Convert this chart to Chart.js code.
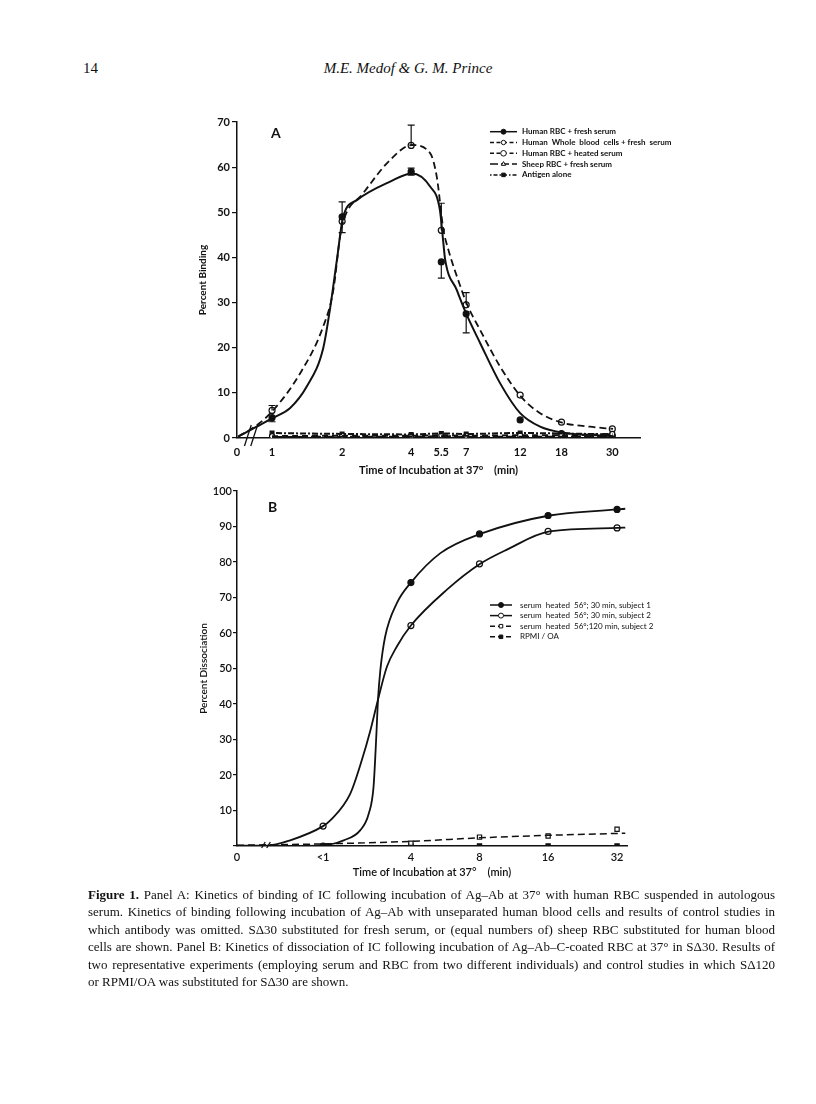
<!DOCTYPE html>
<html>
<head>
<meta charset="utf-8">
<script src="https://cdn.jsdelivr.net/npm/chart.js@4.4.0/dist/chart.umd.min.js"></script>
<style>
body { margin: 0; background: #fff; }
#page { position: relative; width: 816px; height: 1104px; overflow: hidden; color: #111; }
.abs { position: absolute; }
#pgnum { left: 83px; top: 60px; font: 15px "Liberation Serif", serif; }
#authors { left: 0; width: 816px; top: 60px; text-align: center; font: italic 15px "Liberation Serif", serif; }
.panel { font: bold 14px Lato, sans-serif; line-height: 14px; }
#caption { left: 88px; top: 886px; width: 687px; font: 13px "Liberation Serif", serif; line-height: 17.4px; }
#caption div { text-align: justify; text-align-last: justify; white-space: nowrap; }
#caption div.last { text-align-last: left; }
canvas { position: absolute; }
</style>
</head>
<body>
<div id="page">
  <div id="pgnum" class="abs">14</div>
  <div id="authors" class="abs">M.E. Medof &amp; G. M. Prince</div>

  <canvas id="chartA" width="560" height="390" style="left:150px; top:100px;"></canvas>
  <canvas id="chartB" width="560" height="420" style="left:150px; top:470px;"></canvas>
  <div class="abs panel" style="left:271px; top:126px;">A</div>
  <div class="abs panel" style="left:268px; top:500px;">B</div>

  <div id="caption" class="abs">
    <div><b>Figure 1.</b> Panel A: Kinetics of binding of IC following incubation of Ag–Ab at 37° with human RBC suspended in autologous</div>
    <div>serum. Kinetics of binding following incubation of Ag–Ab with unseparated human blood cells and results of control studies in</div>
    <div>which antibody was omitted. SΔ30 substituted for fresh serum, or (equal numbers of) sheep RBC substituted for human blood</div>
    <div>cells are shown. Panel B: Kinetics of dissociation of IC following incubation of Ag–Ab–C-coated RBC at 37° in SΔ30. Results of</div>
    <div>two representative experiments (employing serum and RBC from two different individuals) and control studies in which SΔ120</div>
    <div class="last">or RPMI/OA was substituted for SΔ30 are shown.</div>
  </div>
</div>

<script>
// ---- Panel A: binding ----
// x axis is not linear in time, so each time label gets a position on the axis
var labelsA = ['0', '1', '2', '4', '5.5', '7', '12', '18', '30'];
var posA = [0, 1, 3, 4.97, 5.83, 6.54, 8.08, 9.26, 10.71];
var sampleA = posA.slice(1);

var freshA = [4.5, 49, 59, 39, 27.5, 4, 1, 0.5];
var freshUp = [0, 3.3, 0.8, 0, 0, 0, 0, 0];
var freshDown = [0.9, 0, 0.8, 3.6, 4.2, 0, 0, 0];
var wholeA = [6.1, 48, 64.8, 46, 29.5, 9.5, 3.5, 2];
var wholeUp = [1.1, 0, 4.5, 6, 2.7, 0, 0, 0];
var wholeDown = [0, 2.5, 0, 0, 0, 0, 0, 0];
var heatedA = [0.4, 0.5, 0.5, 0.6, 0.5, 0.6, 0.6, 0.9];
var sheepA = [0.2, 0.3, 0.3, 0.4, 0.3, 0.3, 0.3, 0.4];
var antigenA = [1.1, 0.9, 0.8, 1.0, 0.9, 1.1, 1.0, 0.8];

// the fitted curves as drawn in the figure
var freshCurveX = [0.03, 0.56, 1.04, 1.51, 1.99, 2.46, 2.65, 2.85, 3.03, 3.42, 4.37, 4.99, 5.51, 5.79, 5.89, 5.94, 6.27, 6.56, 6.94, 7.51, 8.08, 8.65, 9.28, 10.73];
var freshCurveY = [0.3, 2.5, 4.5, 6.6, 11.4, 19.9, 28.4, 39.4, 49, 52.7, 56.8, 58.6, 55.7, 50.5, 43.1, 39.5, 32.8, 27.2, 21, 12.1, 5.5, 2.5, 1.2, 0.4];
var wholeCurveX = [0.03, 0.56, 1.04, 1.8, 2.46, 2.75, 2.94, 3.03, 3.6, 4.37, 4.99, 5.51, 5.7, 5.89, 5.98, 6.41, 6.57, 6.94, 7.51, 8.11, 8.65, 9.28, 10.07, 10.73];
var wholeCurveY = [0.3, 2.8, 6.2, 14.3, 24.7, 32.8, 44.6, 48, 54.2, 61.6, 64.9, 63.1, 57.9, 46.1, 43.1, 32.8, 29.5, 23.9, 15.8, 9.1, 5.5, 3.4, 2.5, 2];

// ---- Panel B: dissociation ----
var labelsB = ['0', '<1', '4', '8', '16', '32'];
var posB = [0, 2.51, 5.07, 7.07, 9.07, 11.08];
var sampleB = posB.slice(1);
var ctrlB = posB.slice(2);

var subj1B = [0, 74.2, 87.9, 93.1, 94.8];
var subj2B = [5.6, 62.1, 79.5, 88.6, 89.6];
var sd120B = [0.8, 2.5, 2.8, 4.7];
var rpmiB = [0, 0, 0, 0];

var subj1CurveX = [0, 0.83, 2.51, 3.11, 3.59, 3.84, 3.98, 4.06, 4.11, 4.18, 4.32, 4.66, 5.07, 5.93, 7.09, 9.11, 11.1, 11.32];
var subj1CurveY = [0, 0, 0.2, 1.6, 4.4, 9.1, 16.6, 30.7, 41.1, 49.6, 59, 68.4, 74.2, 82.5, 87.9, 93.1, 94.8, 95];
var subj2CurveX = [0, 0.88, 1.55, 2.51, 2.72, 3.3, 3.64, 3.89, 4.13, 4.37, 4.66, 5.07, 6.12, 7.09, 7.87, 9.11, 11.1, 11.32];
var subj2CurveY = [0.1, 0.1, 1.6, 5.6, 7.2, 14.7, 24.2, 32.6, 42, 50.5, 56.2, 62.1, 72.2, 79.5, 83.5, 88.6, 89.6, 89.7];
var sd120CurveX = [0, 2.51, 5.07, 7.07, 9.07, 11.32];
var sd120CurveY = [0.2, 0.6, 1.3, 2.3, 3.0, 3.6];
var rpmiCurveX = [0, 11.32];
var rpmiCurveY = [0, 0];

Chart.defaults.font.family = 'Lato, sans-serif';
Chart.defaults.color = '#111';

function pts(xs, ys) {
  return xs.map(function(x, i) { return {x: x, y: ys[i]}; });
}

function curve(xs, ys, dash, w) {
  return {
    data: pts(xs, ys), borderColor: '#111', borderWidth: w || 1.8, borderDash: dash || [],
    pointRadius: 0, cubicInterpolationMode: 'monotone', fill: false
  };
}

function marks(xs, ys, style, filled, r) {
  return {
    data: pts(xs, ys), showLine: false, pointStyle: style, pointRadius: r || 2.8,
    pointBackgroundColor: filled ? '#111' : '#fff', pointBorderColor: '#111', pointBorderWidth: 1.2
  };
}

// legend drawn inside the plot, with line sample + marker
var keyBox = {
  id: 'keyBox',
  afterDraw: function(chart, args, o) {
    var ctx = chart.ctx;
    ctx.save();
    o.items.forEach(function(it, i) {
      var y = o.y + i * o.dy;
      ctx.strokeStyle = '#111';
      ctx.lineWidth = 1.5;
      ctx.setLineDash(it.dash || []);
      ctx.beginPath();
      ctx.moveTo(o.x, y);
      ctx.lineTo(o.x + o.w, y);
      ctx.stroke();
      ctx.setLineDash([]);
      ctx.lineWidth = 1;
      ctx.fillStyle = it.filled ? '#111' : '#fff';
      Chart.helpers.drawPoint(ctx, {pointStyle: it.style, radius: it.r || 2.5, borderWidth: 1, rotation: 0}, o.x + o.w / 2, y);
      ctx.fillStyle = '#111';
      ctx.font = o.font;
      ctx.textBaseline = 'middle';
      ctx.fillText(it.text, o.x + o.w + o.gap, y);
    });
    ctx.restore();
  }
};

var errBars = {
  id: 'errBars',
  afterDatasetsDraw: function(chart) {
    var ctx = chart.ctx, ys = chart.scales.y;
    ctx.save();
    ctx.strokeStyle = '#111';
    ctx.lineWidth = 1.2;
    chart.data.datasets.forEach(function(ds, di) {
      if (!ds.errUp) return;
      var meta = chart.getDatasetMeta(di);
      meta.data.forEach(function(p, i) {
        var v = ds.data[i].y;
        [[ds.errUp[i], 1], [ds.errDown[i], -1]].forEach(function(e) {
          if (!e[0]) return;
          var yy = ys.getPixelForValue(v + e[1] * e[0]);
          ctx.beginPath();
          ctx.moveTo(p.x, p.y);
          ctx.lineTo(p.x, yy);
          ctx.moveTo(p.x - 3.5, yy);
          ctx.lineTo(p.x + 3.5, yy);
          ctx.stroke();
        });
      });
    });
    ctx.restore();
  }
};

var axisBreak = {
  id: 'axisBreak',
  afterDraw: function(chart, args, o) {
    var ctx = chart.ctx, xs = chart.scales.x;
    var y0 = chart.scales.y.getPixelForValue(0);
    ctx.save();
    ctx.strokeStyle = '#111';
    ctx.lineWidth = 1.3;
    o.at.forEach(function(v) {
      var px = xs.getPixelForValue(v);
      ctx.beginPath();
      ctx.moveTo(px - o.dx, y0 + o.down);
      ctx.lineTo(px + o.dx, y0 - o.up);
      ctx.stroke();
    });
    ctx.restore();
  }
};

function xAxis(labels, pos, max, pad, h, titlePad, font) {
  return {
    type: 'linear', min: 0, max: max,
    afterBuildTicks: function(s) { s.ticks = pos.map(function(v) { return {value: v}; }); },
    ticks: { autoSkip: false, maxRotation: 0, padding: pad, font: font,
      callback: function(v, i) { return labels[i]; } },
    grid: { display: false, drawTicks: false },
    border: { display: true, color: '#111', width: 1.5 },
    title: { display: true, text: 'Time of Incubation at 37°    (min)', font: font, padding: {top: 0, bottom: titlePad} },
    afterFit: function(s) { s.height = h; }
  };
}

var fontA = {size: 11, weight: 'bold'};
var freshMarks = marks(sampleA, freshA, 'circle', true, 3);
freshMarks.errUp = freshUp; freshMarks.errDown = freshDown;
var wholeMarks = marks(sampleA, wholeA, 'circle', false, 3);
wholeMarks.errUp = wholeUp; wholeMarks.errDown = wholeDown;

new Chart(document.getElementById('chartA'), {
  type: 'line',
  data: {
    datasets: [
      curve(freshCurveX, freshCurveY, [], 2),
      curve(wholeCurveX, wholeCurveY, [7, 4], 1.8),
      curve(sampleA, heatedA, [6, 4], 2),
      curve(sampleA, sheepA, [10, 3], 2),
      curve(sampleA, antigenA, [2, 2, 6, 2], 2),
      marks(sampleA, heatedA, 'circle', false, 2.5),
      marks(sampleA, sheepA, 'triangle', false, 2.5),
      marks(sampleA, antigenA, 'rect', true, 2.7),
      freshMarks,
      wholeMarks
    ]
  },
  options: {
    responsive: false, animation: false, devicePixelRatio: 1,
    layout: { padding: {left: 37, right: 70, top: 22, bottom: 7} },
    plugins: {
      legend: { display: false }, tooltip: { enabled: false },
      keyBox: {
        x: 340, y: 31.7, dy: 10.8, w: 27, gap: 5, font: 'bold 8px Lato, sans-serif',
        items: [
          {text: 'Human RBC + fresh serum', style: 'circle', filled: true},
          {text: 'Human  Whole  blood  cells + fresh  serum', style: 'circle', filled: false, dash: [4, 2.5], r: 2.2},
          {text: 'Human RBC + heated serum', style: 'circle', filled: false, dash: [4, 2.5], r: 2.8},
          {text: 'Sheep RBC + fresh serum', style: 'triangle', filled: false, dash: [8, 3]},
          {text: 'Antigen alone', style: 'rect', filled: true, dash: [1.5, 2, 4, 2]}
        ]
      },
      axisBreak: { at: [0.31, 0.49], dx: 3.4, up: 13, down: 8 }
    },
    scales: {
      x: xAxis(labelsA, posA, 11.5, 8, 45, 6, fontA),
      y: {
        min: 0, max: 70,
        ticks: { stepSize: 10, padding: 2, font: fontA },
        grid: { display: true, drawOnChartArea: false, drawTicks: true, tickLength: 5, color: '#111', lineWidth: 1.2 },
        border: { display: true, color: '#111', width: 1.5 },
        title: { display: true, text: 'Percent Binding', font: {size: 10, weight: 'bold'}, padding: {top: 10, bottom: 0} },
        afterFit: function(s) { s.width = 50; }
      }
    }
  },
  plugins: [errBars, keyBox, axisBreak]
});

var fontB = {size: 11, weight: '600'};
new Chart(document.getElementById('chartB'), {
  type: 'line',
  data: {
    datasets: [
      curve(subj1CurveX, subj1CurveY, [], 1.8),
      curve(subj2CurveX, subj2CurveY, [], 1.8),
      curve(sd120CurveX, sd120CurveY, [7, 4], 1.5),
      curve(rpmiCurveX, rpmiCurveY, [7, 4], 1.5),
      marks(sampleB, subj1B, 'circle', true, 3),
      marks(sampleB, subj2B, 'circle', false, 3),
      marks(ctrlB, sd120B, 'rect', false, 3),
      marks(ctrlB, rpmiB, 'rect', true, 3)
    ]
  },
  options: {
    responsive: false, animation: false, devicePixelRatio: 1,
    layout: { padding: {left: 37, right: 83, top: 21, bottom: 4} },
    plugins: {
      legend: { display: false }, tooltip: { enabled: false },
      keyBox: {
        x: 340, y: 135, dy: 10.6, w: 22, gap: 8, font: '8px Lato, sans-serif',
        items: [
          {text: 'serum  heated  56°; 30 min, subject 1', style: 'circle', filled: true},
          {text: 'serum  heated  56°; 30 min, subject 2', style: 'circle', filled: false},
          {text: 'serum  heated  56°;120 min, subject 2', style: 'rect', filled: false, dash: [5, 3]},
          {text: 'RPMI / OA', style: 'rect', filled: true, dash: [5, 3]}
        ]
      },
      axisBreak: { at: [0.77, 0.92], dx: 1.8, up: 4, down: 2 }
    },
    scales: {
      x: xAxis(labelsB, posB, 11.37, 5, 40, 7, fontB),
      y: {
        min: 0, max: 100,
        ticks: { stepSize: 10, padding: 1, font: fontB,
          callback: function(v) { return v === 0 ? '' : v; } },
        grid: { display: true, drawOnChartArea: false, drawTicks: true, tickLength: 4, color: '#111', lineWidth: 1.2 },
        border: { display: true, color: '#111', width: 1.5 },
        title: { display: true, text: 'Percent Dissociation', font: {size: 10, weight: '600'}, padding: {top: 11, bottom: 0} },
        afterFit: function(s) { s.width = 50; }
      }
    }
  },
  plugins: [keyBox, axisBreak]
});
</script>
</body>
</html>
